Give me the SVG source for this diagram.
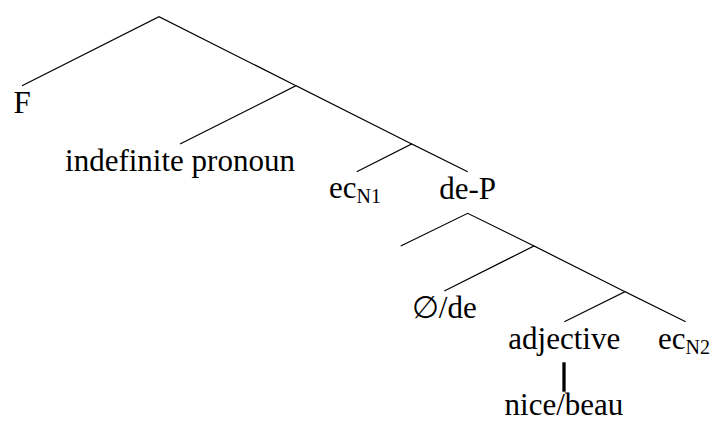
<svg xmlns="http://www.w3.org/2000/svg" width="712" height="421" viewBox="0 0 712 421">
<rect width="712" height="421" fill="#fff"/>
<g id="connectors" stroke="#000" stroke-width="1.2" fill="none">
<path d="M22,85.7 L159,16.7 L296,85.7"/>
<path d="M180,144 L296,85.7 L411.7,144"/>
<path d="M356.7,171.7 L411.7,144 L467.7,171.7"/>
<path d="M400.7,246 L467.7,213.3 L534,246"/>
<path d="M444.3,291 L534,246 L625,291.7"/>
<path d="M564.3,321.7 L625,291.7 L685.7,321.7"/>
<line x1="564" y1="362.3" x2="564" y2="391.7" stroke-width="3.3"/>
</g>
<text id="F" x="22" y="113" font-size="31" font-family="Liberation Serif" text-anchor="middle">F</text>
<text id="indef" x="180" y="171" font-size="31" font-family="Liberation Serif" text-anchor="middle">indefinite pronoun</text>
<text id="ecN1" x="355" y="197.5" font-size="31" font-family="Liberation Serif" text-anchor="middle">ec<tspan font-size="20" dy="5">N1</tspan></text>
<text id="deP" x="467.7" y="198.7" font-size="31" font-family="Liberation Serif" text-anchor="middle">de-P</text>
<text id="empty" x="444.3" y="318.3" font-size="31" font-family="Liberation Serif" text-anchor="middle">∅/de</text>
<text id="adj" x="564.3" y="348.5" font-size="31" font-family="Liberation Serif" text-anchor="middle">adjective</text>
<text id="ecN2" x="684" y="348.5" font-size="31" font-family="Liberation Serif" text-anchor="middle">ec<tspan font-size="20" dy="5">N2</tspan></text>
<text id="nice" x="564" y="415" font-size="31" font-family="Liberation Serif" text-anchor="middle">nice/beau</text>
</svg>
